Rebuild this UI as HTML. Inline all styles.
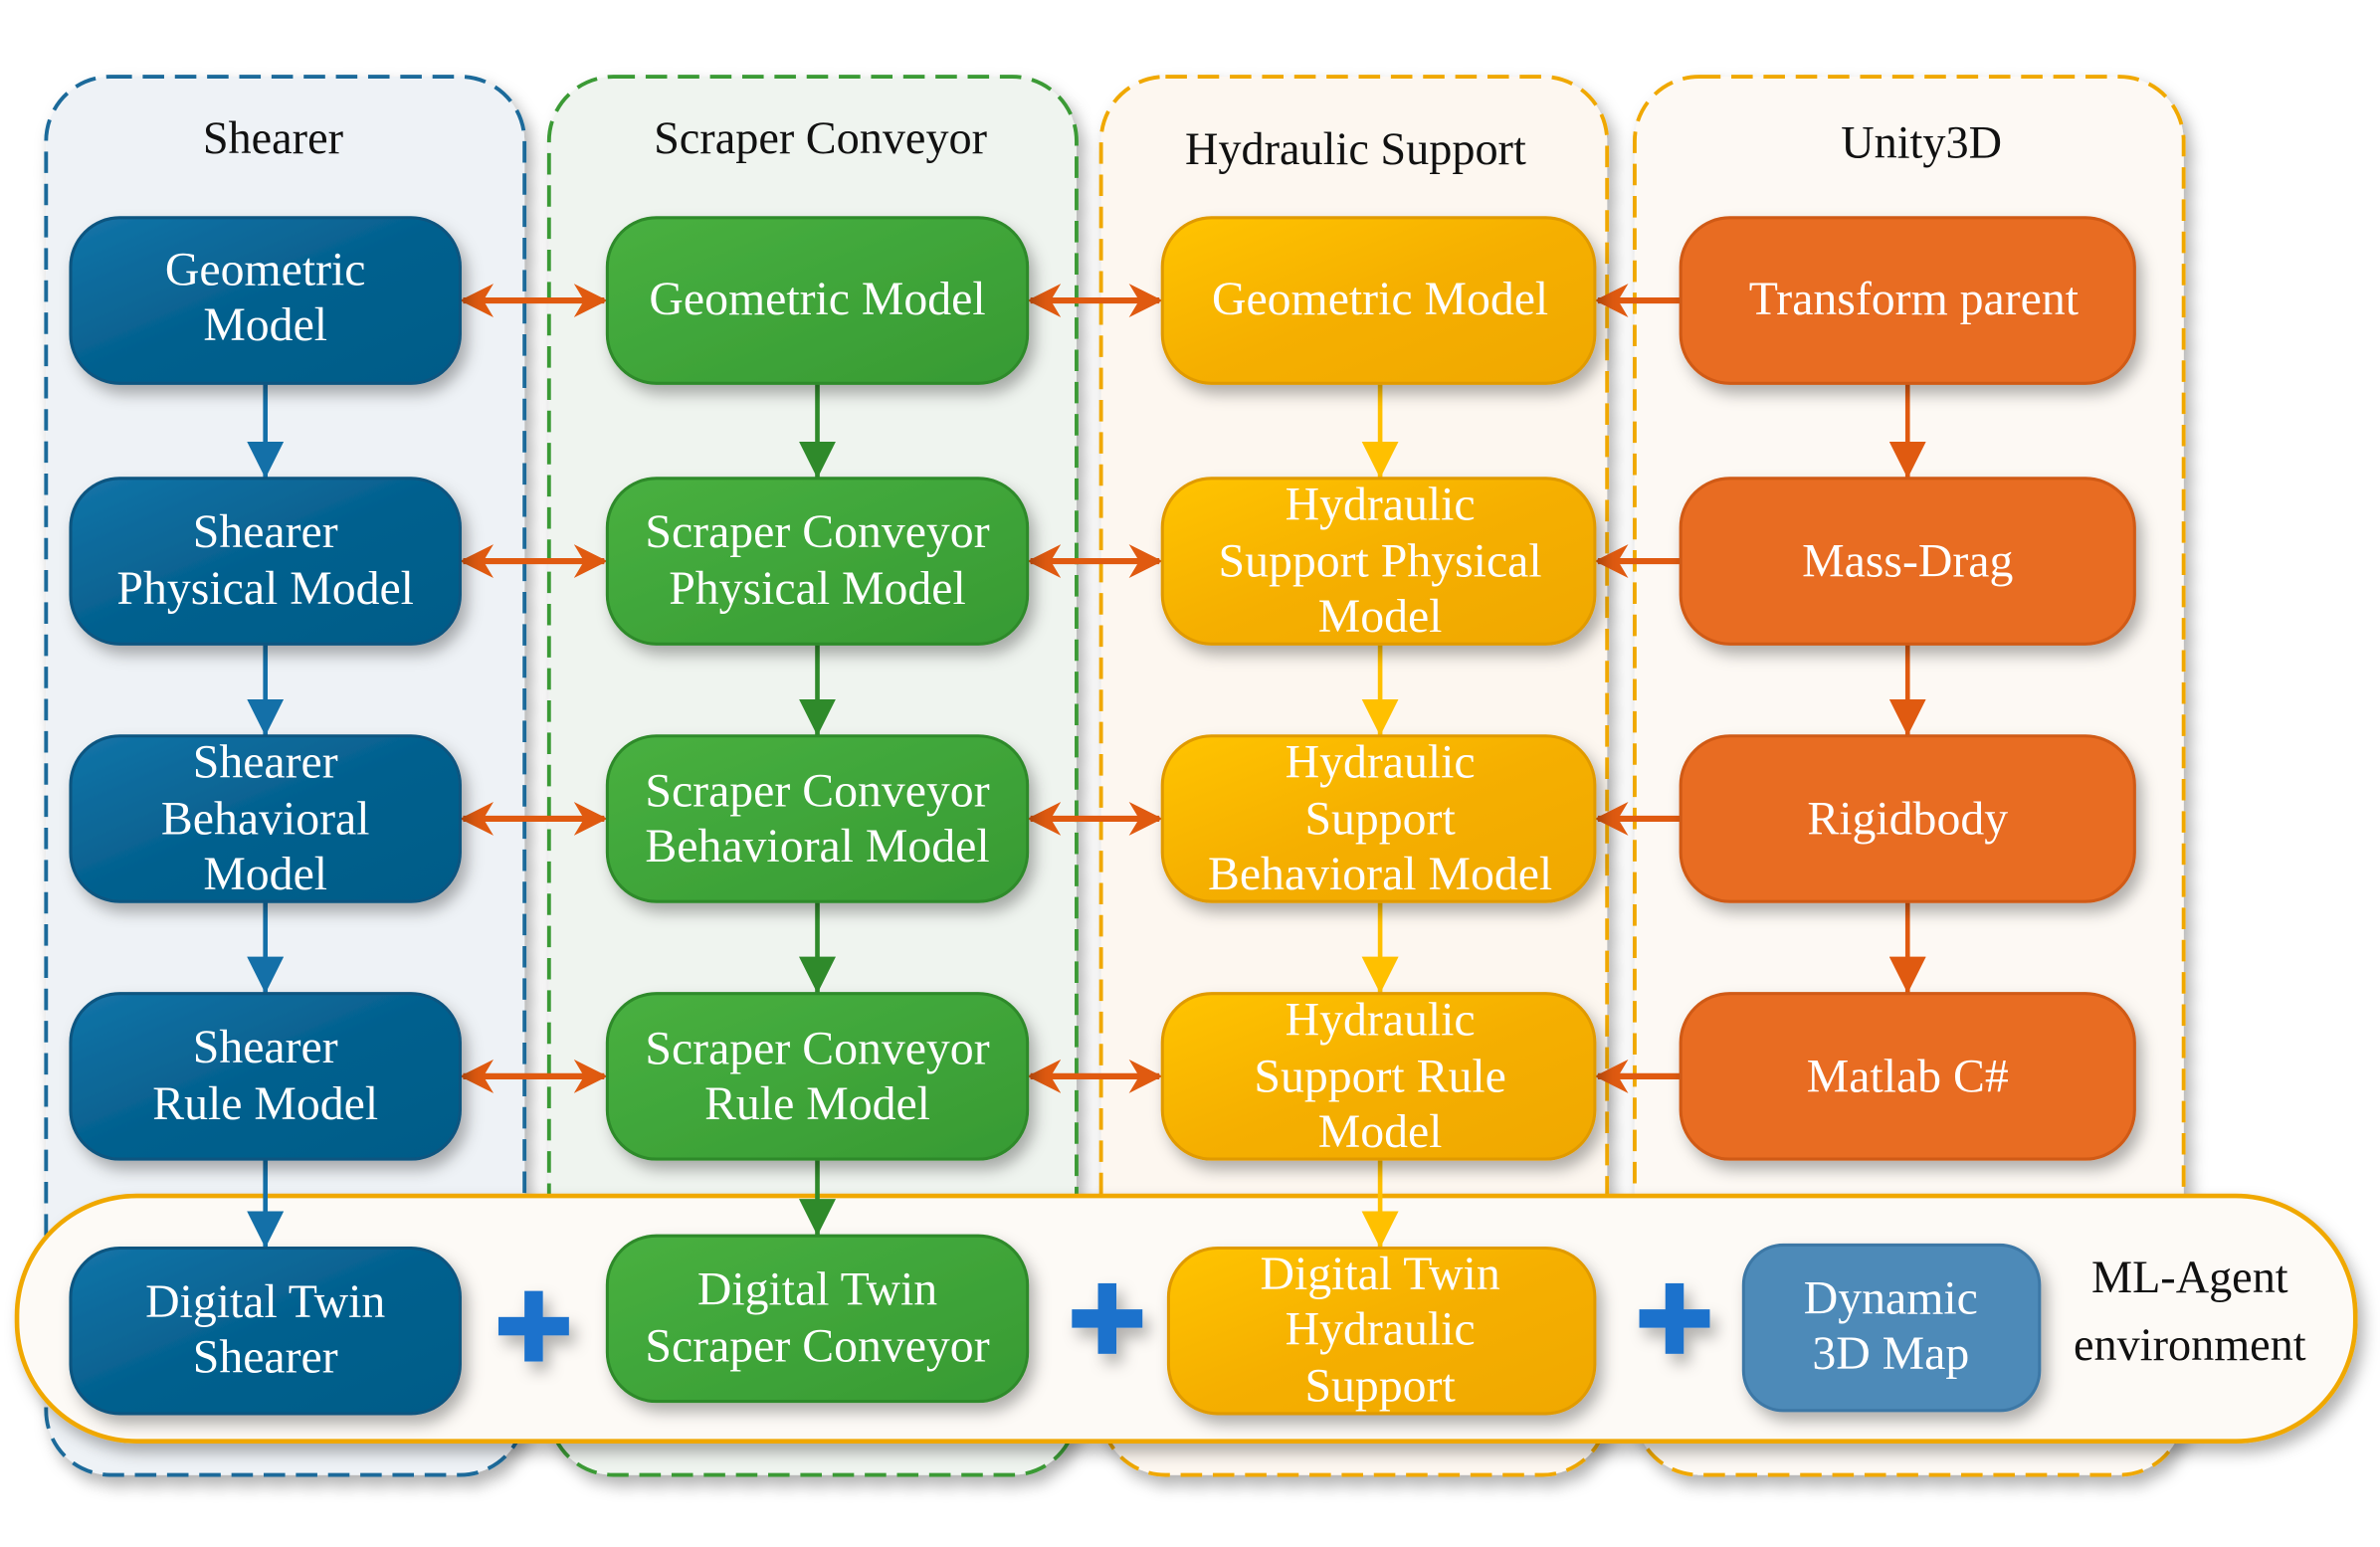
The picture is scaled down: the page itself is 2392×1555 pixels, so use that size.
<!DOCTYPE html>
<html><head><meta charset="utf-8"><style>
html,body{margin:0;padding:0;background:#fff;}
svg{display:block;}
text{font-family:"Liberation Serif",serif;}
.t{fill:#fff;font-size:31px;text-anchor:middle;}
.h{fill:#111;font-size:30px;text-anchor:middle;}
</style></head><body>
<svg width="2392" height="1555" viewBox="0 0 1552 1009" xmlns="http://www.w3.org/2000/svg">
<defs>
<filter id="sh" x="-20%" y="-20%" width="140%" height="150%"><feDropShadow dx="4" dy="6" stdDeviation="5" flood-color="#000" flood-opacity="0.3"/></filter>
<linearGradient id="gb" x1="0" y1="0" x2="1" y2="1"><stop offset="0" stop-color="#1474a8"/><stop offset="0.5" stop-color="#04608e"/><stop offset="1" stop-color="#055c88"/></linearGradient>
<linearGradient id="gg" x1="0" y1="0" x2="1" y2="1"><stop offset="0" stop-color="#48b040"/><stop offset="1" stop-color="#379a33"/></linearGradient>
<linearGradient id="gy" x1="0" y1="0" x2="1" y2="1"><stop offset="0" stop-color="#ffc400"/><stop offset="0.5" stop-color="#f5af00"/><stop offset="1" stop-color="#f0a800"/></linearGradient>
<marker id="mo" viewBox="0 0 10 10" refX="9" refY="5" markerWidth="5.5" markerHeight="5.5" orient="auto-start-reverse"><path d="M0,0 L10,5 L0,10 L3,5 z" fill="#e05a10"/></marker>
<marker id="mb" viewBox="0 0 10 10" refX="10" refY="5" markerWidth="8" markerHeight="8" orient="auto"><path d="M0,0 L10,5 L0,10 z" fill="#1470a8"/></marker>
<marker id="mg" viewBox="0 0 10 10" refX="10" refY="5" markerWidth="8" markerHeight="8" orient="auto"><path d="M0,0 L10,5 L0,10 z" fill="#2f8a2b"/></marker>
<marker id="my" viewBox="0 0 10 10" refX="10" refY="5" markerWidth="8" markerHeight="8" orient="auto"><path d="M0,0 L10,5 L0,10 z" fill="#ffc000"/></marker>
<marker id="mr" viewBox="0 0 10 10" refX="10" refY="5" markerWidth="8" markerHeight="8" orient="auto"><path d="M0,0 L10,5 L0,10 z" fill="#e05a10"/></marker>
</defs>

<g filter="url(#sh)" stroke-width="2.5" stroke-dasharray="14,7">
<rect x="30" y="50" width="312" height="912" rx="42" fill="#eef2f6" stroke="#1a6a9a"/>
<rect x="358" y="50" width="344" height="912" rx="42" fill="#eff4ef" stroke="#3a9a35"/>
<rect x="718" y="50" width="330" height="912" rx="42" fill="#fdf7f0" stroke="#f0a800"/>
<rect x="1066" y="50" width="358" height="912" rx="42" fill="#fdf9f4" stroke="#f0a800"/>
</g>
<text class="h" x="178" y="100">Shearer</text>
<text class="h" x="535" y="100">Scraper Conveyor</text>
<text class="h" x="884" y="107">Hydraulic Support</text>
<text class="h" x="1253" y="103">Unity3D</text>

<rect x="11" y="780" width="1525" height="160" rx="78" fill="#fdfaf6" stroke="#f0a800" stroke-width="3" filter="url(#sh)"/>

<g stroke-width="3">
<line x1="173" y1="250" x2="173" y2="312" stroke="#1470a8" marker-end="url(#mb)"/>
<line x1="173" y1="420" x2="173" y2="480" stroke="#1470a8" marker-end="url(#mb)"/>
<line x1="173" y1="588" x2="173" y2="648" stroke="#1470a8" marker-end="url(#mb)"/>
<line x1="173" y1="756" x2="173" y2="814" stroke="#1470a8" marker-end="url(#mb)"/>
<line x1="533" y1="250" x2="533" y2="312" stroke="#2f8a2b" marker-end="url(#mg)"/>
<line x1="533" y1="420" x2="533" y2="480" stroke="#2f8a2b" marker-end="url(#mg)"/>
<line x1="533" y1="588" x2="533" y2="648" stroke="#2f8a2b" marker-end="url(#mg)"/>
<line x1="533" y1="756" x2="533" y2="806" stroke="#2f8a2b" marker-end="url(#mg)"/>
<line x1="900" y1="250" x2="900" y2="312" stroke="#ffc000" marker-end="url(#my)"/>
<line x1="900" y1="420" x2="900" y2="480" stroke="#ffc000" marker-end="url(#my)"/>
<line x1="900" y1="588" x2="900" y2="648" stroke="#ffc000" marker-end="url(#my)"/>
<line x1="900" y1="756" x2="900" y2="814" stroke="#ffc000" marker-end="url(#my)"/>
<line x1="1244" y1="250" x2="1244" y2="312" stroke="#e05a10" marker-end="url(#mr)"/>
<line x1="1244" y1="420" x2="1244" y2="480" stroke="#e05a10" marker-end="url(#mr)"/>
<line x1="1244" y1="588" x2="1244" y2="648" stroke="#e05a10" marker-end="url(#mr)"/>
</g>

<g stroke="#e05a10" stroke-width="4">
<line x1="302" y1="196" x2="394" y2="196" marker-start="url(#mo)" marker-end="url(#mo)"/>
<line x1="302" y1="366" x2="394" y2="366" marker-start="url(#mo)" marker-end="url(#mo)"/>
<line x1="302" y1="534" x2="394" y2="534" marker-start="url(#mo)" marker-end="url(#mo)"/>
<line x1="302" y1="702" x2="394" y2="702" marker-start="url(#mo)" marker-end="url(#mo)"/>
<line x1="672" y1="196" x2="756" y2="196" marker-start="url(#mo)" marker-end="url(#mo)"/>
<line x1="672" y1="366" x2="756" y2="366" marker-start="url(#mo)" marker-end="url(#mo)"/>
<line x1="672" y1="534" x2="756" y2="534" marker-start="url(#mo)" marker-end="url(#mo)"/>
<line x1="672" y1="702" x2="756" y2="702" marker-start="url(#mo)" marker-end="url(#mo)"/>
<line x1="1096" y1="196" x2="1042" y2="196" marker-end="url(#mo)"/>
<line x1="1096" y1="366" x2="1042" y2="366" marker-end="url(#mo)"/>
<line x1="1096" y1="534" x2="1042" y2="534" marker-end="url(#mo)"/>
<line x1="1096" y1="702" x2="1042" y2="702" marker-end="url(#mo)"/>
</g>

<g filter="url(#sh)" stroke-width="2">
<rect x="46" y="142" width="254" height="108" rx="32" fill="url(#gb)" stroke="#0b5580"/>
<rect x="46" y="312" width="254" height="108" rx="32" fill="url(#gb)" stroke="#0b5580"/>
<rect x="46" y="480" width="254" height="108" rx="32" fill="url(#gb)" stroke="#0b5580"/>
<rect x="46" y="648" width="254" height="108" rx="32" fill="url(#gb)" stroke="#0b5580"/>
<rect x="46" y="814" width="254" height="108" rx="32" fill="url(#gb)" stroke="#0b5580"/>
<rect x="396" y="142" width="274" height="108" rx="32" fill="url(#gg)" stroke="#2f8a2b"/>
<rect x="396" y="312" width="274" height="108" rx="32" fill="url(#gg)" stroke="#2f8a2b"/>
<rect x="396" y="480" width="274" height="108" rx="32" fill="url(#gg)" stroke="#2f8a2b"/>
<rect x="396" y="648" width="274" height="108" rx="32" fill="url(#gg)" stroke="#2f8a2b"/>
<rect x="396" y="806" width="274" height="108" rx="32" fill="url(#gg)" stroke="#2f8a2b"/>
<rect x="758" y="142" width="282" height="108" rx="32" fill="url(#gy)" stroke="#e09a00"/>
<rect x="758" y="312" width="282" height="108" rx="32" fill="url(#gy)" stroke="#e09a00"/>
<rect x="758" y="480" width="282" height="108" rx="32" fill="url(#gy)" stroke="#e09a00"/>
<rect x="758" y="648" width="282" height="108" rx="32" fill="url(#gy)" stroke="#e09a00"/>
<rect x="762" y="814" width="278" height="108" rx="32" fill="url(#gy)" stroke="#e09a00"/>
<rect x="1096" y="142" width="296" height="108" rx="32" fill="#e86c22" stroke="#d05a14"/>
<rect x="1096" y="312" width="296" height="108" rx="32" fill="#e86c22" stroke="#d05a14"/>
<rect x="1096" y="480" width="296" height="108" rx="32" fill="#e86c22" stroke="#d05a14"/>
<rect x="1096" y="648" width="296" height="108" rx="32" fill="#e86c22" stroke="#d05a14"/>
<rect x="1137" y="812" width="193" height="108" rx="26" fill="#4d8ab8" stroke="#3e78a6"/>
</g>

<g fill="#1f72cc" filter="url(#sh)">
<rect x="342" y="842" width="12" height="46"/><rect x="325" y="859" width="46" height="12"/>
<rect x="716" y="837" width="12" height="46"/><rect x="699" y="854" width="46" height="12"/>
<rect x="1086" y="837" width="12" height="46"/><rect x="1069" y="854" width="46" height="12"/>
</g>

<g class="t">
<text class="t" x="173" y="186">Geometric</text><text class="t" x="173" y="222">Model</text>
<text class="t" x="173" y="357">Shearer</text><text class="t" x="173" y="394">Physical Model</text>
<text class="t" x="173" y="507">Shearer</text><text class="t" x="173" y="544">Behavioral</text><text class="t" x="173" y="580">Model</text>
<text class="t" x="173" y="693">Shearer</text><text class="t" x="173" y="730">Rule Model</text>
<text class="t" x="173" y="859">Digital Twin</text><text class="t" x="173" y="895">Shearer</text>

<text class="t" x="533" y="205">Geometric Model</text>
<text class="t" x="533" y="357">Scraper Conveyor</text><text class="t" x="533" y="394">Physical Model</text>
<text class="t" x="533" y="526">Scraper Conveyor</text><text class="t" x="533" y="562">Behavioral Model</text>
<text class="t" x="533" y="694">Scraper Conveyor</text><text class="t" x="533" y="730">Rule Model</text>
<text class="t" x="533" y="851">Digital Twin</text><text class="t" x="533" y="888">Scraper Conveyor</text>

<text class="t" x="900" y="205">Geometric Model</text>
<text class="t" x="900" y="339">Hydraulic</text><text class="t" x="900" y="376">Support Physical</text><text class="t" x="900" y="412">Model</text>
<text class="t" x="900" y="507">Hydraulic</text><text class="t" x="900" y="544">Support</text><text class="t" x="900" y="580">Behavioral Model</text>
<text class="t" x="900" y="675">Hydraulic</text><text class="t" x="900" y="712">Support Rule</text><text class="t" x="900" y="748">Model</text>
<text class="t" x="900" y="841">Digital Twin</text><text class="t" x="900" y="877">Hydraulic</text><text class="t" x="900" y="914">Support</text>

<text class="t" x="1248" y="205">Transform parent</text>
<text class="t" x="1244" y="376">Mass-Drag</text>
<text class="t" x="1244" y="544">Rigidbody</text>
<text class="t" x="1244" y="712">Matlab C#</text>
<text class="t" x="1233" y="857">Dynamic</text><text class="t" x="1233" y="893">3D Map</text>
</g>
<text class="h" x="1428" y="843">ML-Agent</text>
<text class="h" x="1428" y="887">environment</text>
</svg>
</body></html>
